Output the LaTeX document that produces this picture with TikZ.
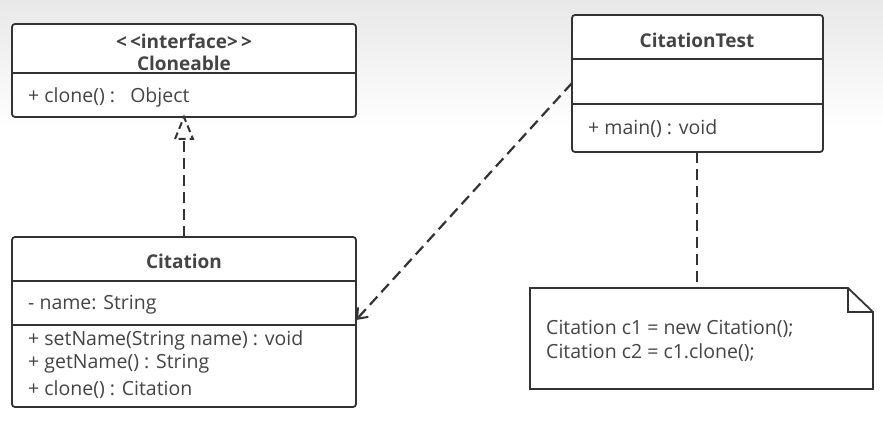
\documentclass[tikz,border=0pt]{standalone}
\usepackage{fontspec}
\setmainfont{Open Sans}
\usetikzlibrary{arrows.meta}
\definecolor{ink}{HTML}{333333}
\definecolor{txt}{HTML}{444444}
\begin{document}
\begin{tikzpicture}[x=1pt,y=-1pt,
  box/.style={draw=ink,line width=1.8pt,rounded corners=3pt,fill=white},
  sep/.style={draw=ink,line width=1.6pt},
  lbl/.style={text=txt,font=\fontsize{19.5}{22}\selectfont,inner sep=0pt,anchor=west},
  ttl/.style={text=txt,font=\bfseries\fontsize{19}{22}\selectfont,inner sep=0pt},
  link/.style={draw=ink,line width=2.2pt,dash pattern=on 11pt off 6pt}
]
% page with a soft grey band along the top
\useasboundingbox (0,0) rectangle (883,425);
\fill[white] (0,0) rectangle (883,425);
\shade[top color=black!9,bottom color=white] (0,0) rectangle (883,130);

% Cloneable interface
\path[box] (12,24) rectangle (356,117);
\draw[sep] (12,73) -- (356,73);
\node[ttl] (clIf) at (184,41) {<\,<interface>\,>};
\node[ttl] (clName) at (184,63) {Cloneable};
\node[lbl] (clOp) at (28,97) {+ clone() :\ \ \ Object};
\coordinate (clBot) at (184,117);

% Citation class
\path[box] (12,237) rectangle (356,407);
\draw[sep] (12,281) -- (356,281);
\draw[sep] (12,325) -- (356,325);
\node[ttl] (ctName) at (184,261) {Citation};
\node[lbl] (ctAttr) at (28,305) {- name: String};
\node[lbl] (ctOp1) at (28,340) {+ setName(String name) : void};
\node[lbl] (ctOp2) at (28,364) {+ getName() : String};
\node[lbl] (ctOp3) at (28,390) {+ clone() : Citation};
\coordinate (ctTop) at (184,237);
\coordinate (ctRight) at (356,320);

% CitationTest class
\path[box] (572,15) rectangle (823,152);
\draw[sep] (572,59) -- (823,59);
\draw[sep] (572,104) -- (823,104);
\node[ttl] (tsName) at (697,40) {CitationTest};
\node[lbl] (tsOp) at (588,129) {+ main() : void};
\coordinate (tsLeft) at (572,83);
\coordinate (tsBot) at (697,152);

% note with folded corner
\draw[draw=ink,line width=1.8pt,fill=white,line join=miter]
  (530,288) -- (848,288) -- (873,312) -- (873,389) -- (530,389) -- cycle;
\draw[draw=ink,line width=1.8pt,line join=miter] (848,288) -- (848,312) -- (873,312);
\node[lbl] (nt1) at (546,329) {Citation c1 = new Citation();};
\node[lbl] (nt2) at (546,353) {Citation c2 = c1.clone();};
\coordinate (ntTop) at (697,288);

% realization: Citation implements Cloneable
\draw[link] (ctTop) -- (184,140);
\draw[draw=ink,line width=2pt,dash pattern=on 7pt off 4pt,line join=miter]
  (175,139) -- (clBot) -- (193,139) -- cycle;

% dependency: CitationTest uses Citation
\draw[link,-{Straight Barb[length=9pt,width=14pt,line width=2pt]}] (tsLeft) -- (ctRight);

% note attached to CitationTest
\draw[link] (tsBot) -- (ntTop);
\end{tikzpicture}
\end{document}
